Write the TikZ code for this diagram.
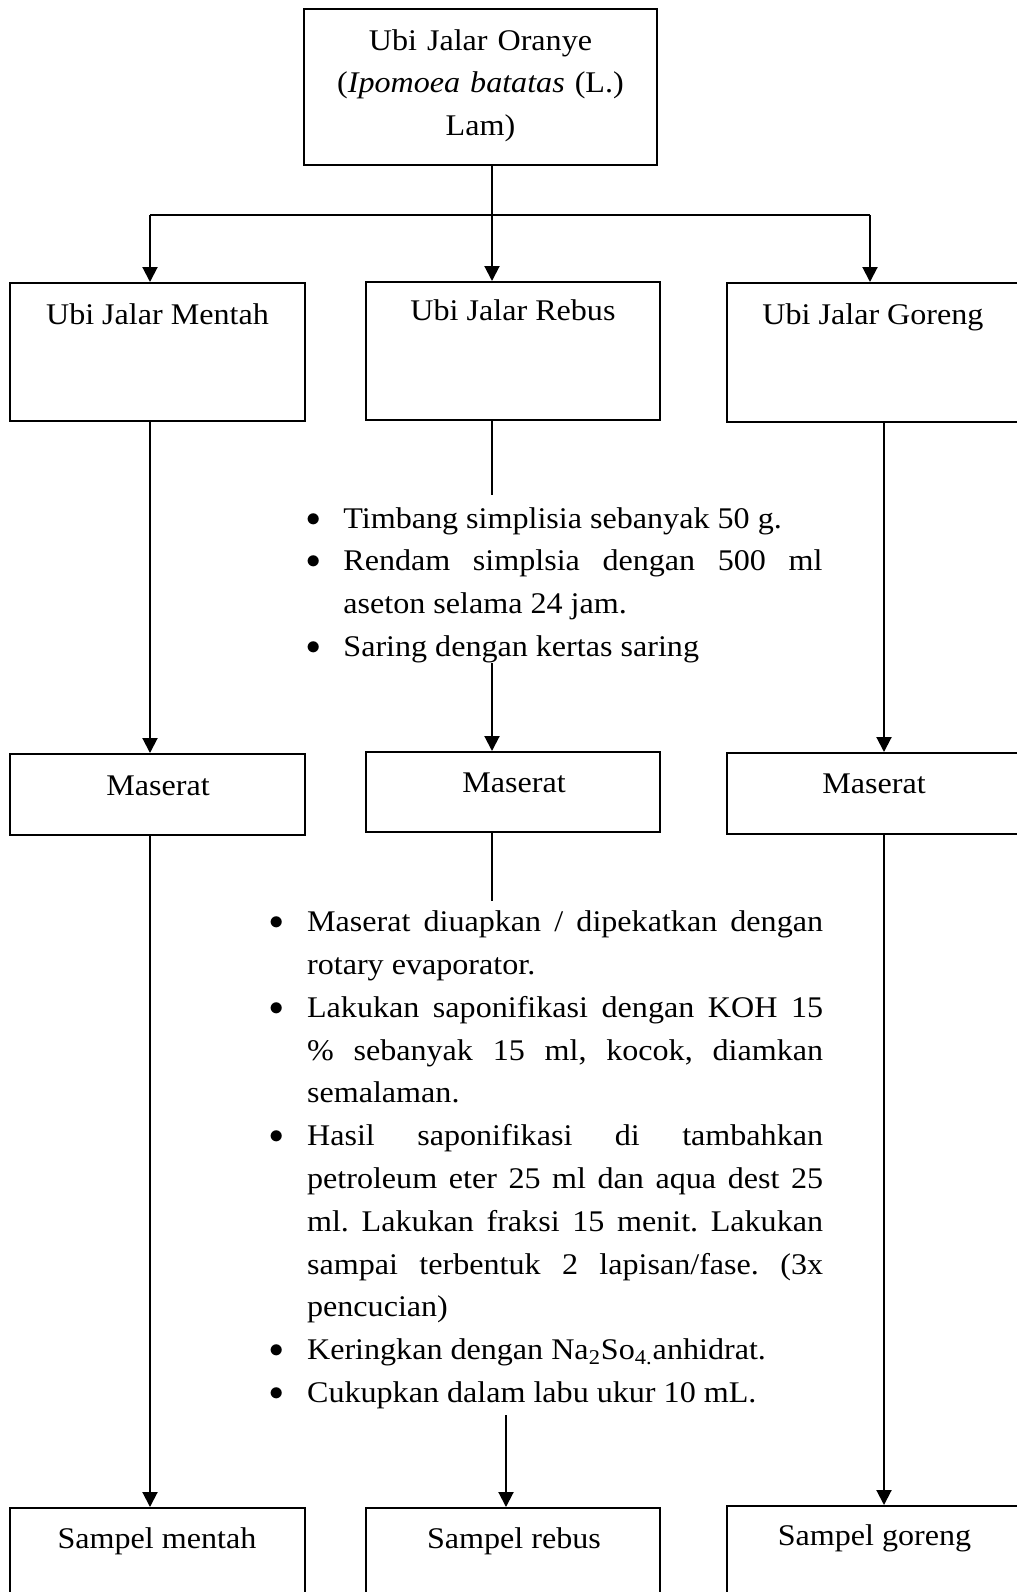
\documentclass[tikz,border=0pt]{standalone}
\usepackage{fontspec}
\setmainfont[FakeStretch=1.07]{Liberation Serif}
\usetikzlibrary{arrows.meta}
\hyphenpenalty=10000
\exhyphenpenalty=10000
\tolerance=10000
\frenchspacing
\newcommand{\dgfont}{\fontsize{15}{21.4}\selectfont\frenchspacing}
\newcommand{\dgbullet}{\llap{\raisebox{1pt}{$\bullet$}\hskip 11.5pt}}
\newcommand{\firstitem}{\noindent\dgbullet}
\newcommand{\myitem}{\par\noindent\dgbullet}
\begin{document}
\begin{tikzpicture}[x=0.5pt,y=-0.5pt,
  box/.style={draw, line width=1pt, inner sep=0pt},
  lbl/.style={inner sep=0pt, anchor=base, font=\dgfont},
  lst/.style={inner sep=0pt, anchor=base west, align=justify, font=\dgfont},
  ln/.style={line width=1pt},
  arr/.style={line width=1pt, -{Triangle[length=7.5pt,width=7.5pt]}}]
\useasboundingbox (0,0) rectangle (1017,1592);
\fill[white] (0,0) rectangle (1017,1592);
\clip (0,0) rectangle (1017,1592);

% boxes
\node[box, minimum width=176.5pt, minimum height=78pt] (top) at (480.5,87) {};
\node[box, minimum width=147.5pt, minimum height=69pt] (mentah) at (157.5,352) {};
\node[box, minimum width=147pt, minimum height=69pt] (rebus) at (513,351) {};
\node[box, minimum width=147pt, minimum height=69.5pt] (goreng) at (874,352.5) {};
\node[box, minimum width=147.5pt, minimum height=40.5pt] (mas1) at (157.5,794.5) {};
\node[box, minimum width=147pt, minimum height=40pt] (mas2) at (513,792) {};
\node[box, minimum width=147pt, minimum height=40.5pt] (mas3) at (874,793.5) {};
\node[box, minimum width=147.5pt, minimum height=66pt] (samp1) at (157.5,1574) {};
\node[box, minimum width=147pt, minimum height=66pt] (samp2) at (513,1574) {};
\node[box, minimum width=147pt, minimum height=67pt] (samp3) at (874,1573) {};

% texts
\node[lbl, text width=176pt, align=center] (ttop) at (480.5,50)
  {Ubi Jalar Oranye\\(\textit{Ipomoea batatas} (L.)\\Lam)};
\node[lbl] (tmentah) at (157.5,324) {Ubi Jalar Mentah};
\node[lbl] (trebus) at (513,320.7) {Ubi Jalar Rebus};
\node[lbl] (tgoreng) at (873,324) {Ubi Jalar Goreng};
\node[lbl] (tmas1) at (158,795) {Maserat};
\node[lbl] (tmas2) at (514,792) {Maserat};
\node[lbl] (tmas3) at (874,793) {Maserat};
\node[lbl] (tsamp1) at (157,1548) {Sampel mentah};
\node[lbl] (tsamp2) at (514,1548) {Sampel rebus};
\node[lbl] (tsamp3) at (874.5,1545) {Sampel goreng};

% lists
\node[lst, text width=239.5pt] (list1) at (343,528) {\firstitem Timbang simplisia sebanyak 50 g.%
  \myitem Rendam simplsia dengan 500 ml\linebreak aseton selama 24 jam.%
  \myitem Saring dengan kertas saring};
\node[lst, text width=258pt] (list2) at (306.7,931.7) {\firstitem Maserat diuapkan / dipekatkan dengan\linebreak rotary evaporator.%
  \myitem Lakukan saponifikasi dengan KOH 15\linebreak \% sebanyak 15 ml, kocok, diamkan\linebreak semalaman.%
  \myitem Hasil saponifikasi di tambahkan\linebreak petroleum eter 25 ml dan aqua dest 25\linebreak ml. Lakukan fraksi 15 menit. Lakukan\linebreak sampai terbentuk 2 lapisan/fase. (3x\linebreak pencucian)%
  \myitem Keringkan dengan Na\textsubscript{2}So\textsubscript{4.}anhidrat.%
  \myitem Cukupkan dalam labu ukur 10 mL.};

% connectors
\coordinate (c2) at (492,215);
\coordinate (jl) at (150,215);
\coordinate (jr) at (870,215);
\coordinate (cr) at (884,0);
\draw[ln] (jl) -- (jr);
\draw[arr] (top.south -| c2) -- (rebus.north -| c2);
\draw[arr] (jl) -- (mentah.north -| jl);
\draw[arr] (jr) -- (goreng.north -| jr);

\coordinate (l1a) at (492,495);
\coordinate (l1b) at (492,663);
\draw[ln] (rebus.south -| c2) -- (l1a);
\draw[arr] (l1b) -- (mas2.north -| l1b);

\draw[arr] (mentah.south -| jl) -- (mas1.north -| jl);
\draw[arr] (mas1.south -| jl) -- (samp1.north -| jl);
\draw[arr] (goreng.south -| cr) -- (mas3.north -| cr);
\draw[arr] (mas3.south -| cr) -- (samp3.north -| cr);

\coordinate (l2a) at (492,901);
\coordinate (l2b) at (506,1415);
\draw[ln] (mas2.south -| c2) -- (l2a);
\draw[arr] (l2b) -- (samp2.north -| l2b);
\end{tikzpicture}
\end{document}
